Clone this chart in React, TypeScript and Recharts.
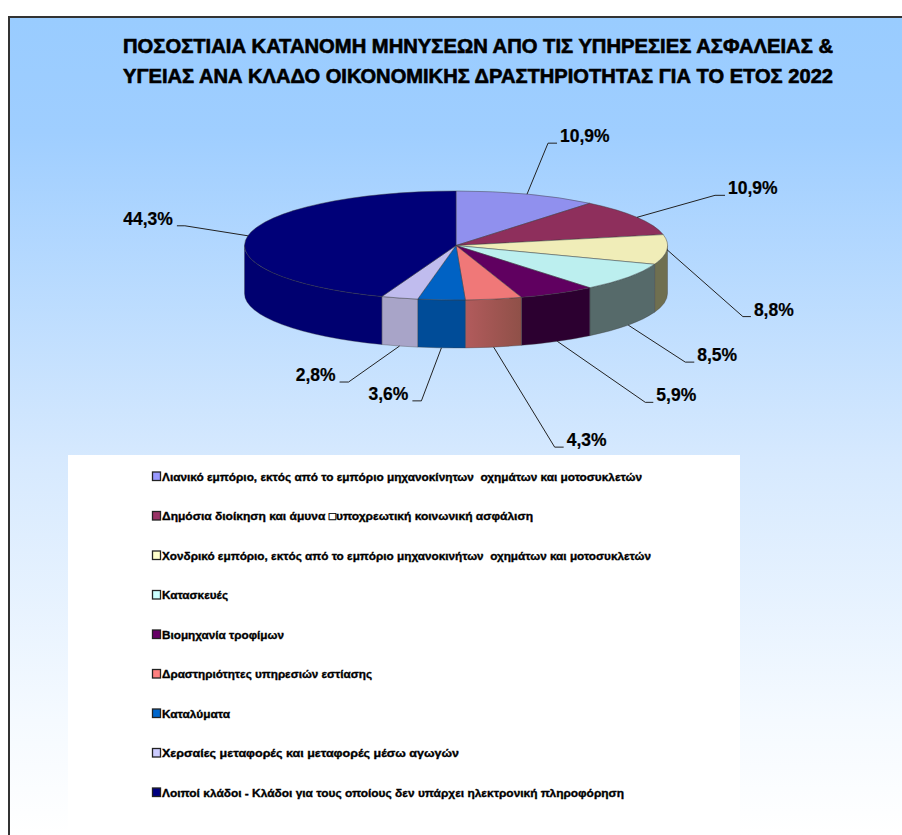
import React from 'react';
import { PieChart, Pie, Cell, Legend } from 'recharts';

const categories = [
  'Λιανικό εμπόριο, εκτός από το εμπόριο μηχανοκίνητων  οχημάτων και μοτοσυκλετών',
  'Δημόσια διοίκηση και άμυνα \u25A1υποχρεωτική κοινωνική ασφάλιση',
  'Χονδρικό εμπόριο, εκτός από το εμπόριο μηχανοκινήτων  οχημάτων και μοτοσυκλετών',
  'Κατασκευές',
  'Βιομηχανία τροφίμων',
  'Δραστηριότητες υπηρεσιών εστίασης',
  'Καταλύματα',
  'Χερσαίες μεταφορές και μεταφορές μέσω αγωγών',
  'Λοιποί κλάδοι - Κλάδοι για τους οποίους δεν υπάρχει ηλεκτρονική πληροφόρηση',
];
const shares = [10.9, 10.9, 8.8, 8.5, 5.9, 4.3, 3.6, 2.8, 44.3];
const titleLines = [
  'ΠΟΣΟΣΤΙΑΙΑ ΚΑΤΑΝΟΜΗ ΜΗΝΥΣΕΩΝ ΑΠΟ ΤΙΣ ΥΠΗΡΕΣΙΕΣ ΑΣΦΑΛΕΙΑΣ &',
  'ΥΓΕΙΑΣ ΑΝΑ ΚΛΑΔΟ ΟΙΚΟΝΟΜΙΚΗΣ ΔΡΑΣΤΗΡΙΟΤΗΤΑΣ ΓΙΑ ΤΟ ΕΤΟΣ 2022',
];

const legendColors = ['#9999ff', '#993366', '#ffffcc', '#ccffff', '#660066', '#ff8080', '#0066cc', '#ccccff', '#000080'];
const topColors = ['#9090ee', '#8e2f5c', '#f0edb8', '#bcefef', '#600060', '#f07878', '#0062c4', '#c0bcee', '#000078'];
const sideColors = ['#6a6ab0', '#6a2444', '#6f6f50', '#566a6a', '#2c0030', 'url(#salmonSide)', '#004c98', '#a8a4c8', '#000070'];

// [elbow dx, elbow dy, tail] measured from where the leader leaves the pie
const leaders = [
  [21, -51, 9],
  [78, -22, 10],
  [76, 67, 8],
  [57, 37, 9],
  [88, 61, 8],
  [61, 100, 9],
  [-20, 53, -9],
  [-51, 36, -9],
  [-63, -10, -8],
];
const legendWidths = [480, 371, 489, 66, 122, 210, 68, 297, 462];

const W = 902;
const H = 835;
const CX = 456;
const CY = 245.5;
const RX = 211.5;
const TILT = 54.5 / 211.5;
const DEPTH = 48;
const RAD = Math.PI / 180;

const rows = categories.map((name, i) => ({ name, value: shares[i] }));

const pt = (cx: number, cy: number, r: number, deg: number) => {
  const x = cx + r * Math.cos(deg * RAD);
  const y = cy - r * TILT * Math.sin(deg * RAD);
  return `${x.toFixed(2)} ${y.toFixed(2)}`;
};

// the top face: same angles the pie computed, squashed to an ellipse
const TopFace = (props: any) => {
  const { cx, cy, outerRadius: r, startAngle, endAngle, fill } = props;
  const large = Math.abs(startAngle - endAngle) > 180 ? 1 : 0;
  const d = `M ${cx} ${cy} L ${pt(cx, cy, r, startAngle)} A ${r} ${r * TILT} 0 ${large} 1 ${pt(cx, cy, r, endAngle)} Z`;
  return <path d={d} fill={fill} stroke="#3c3c3c" strokeOpacity={0.65} strokeWidth={0.7} />;
};

// the rim, only for the part of a slice on the near half
const SideWall = (props: any) => {
  const { cx, cy, outerRadius: r, startAngle, endAngle, fill } = props;
  const hi = Math.min(Math.max(startAngle, endAngle), 0);
  const lo = Math.max(Math.min(startAngle, endAngle), -180);
  if (hi <= lo) return null;
  const d = [
    `M ${pt(cx, cy, r, hi)}`,
    `A ${r} ${r * TILT} 0 0 1 ${pt(cx, cy, r, lo)}`,
    `L ${pt(cx, cy + DEPTH, r, lo)}`,
    `A ${r} ${r * TILT} 0 0 0 ${pt(cx, cy + DEPTH, r, hi)}`,
    'Z',
  ].join(' ');
  return <path d={d} fill={fill} stroke="#3c3c3c" strokeOpacity={0.5} strokeWidth={0.7} />;
};

const LeaderLabel = (props: any) => {
  const { cx, cy, outerRadius: r, midAngle, index, value } = props;
  const cos = Math.cos(midAngle * RAD);
  const sin = Math.sin(midAngle * RAD);
  const ax = cx + r * cos;
  const ay = cy - r * TILT * sin + (sin < -0.2 ? DEPTH : 0);
  const [dx, dy, tail] = leaders[index];
  const ex = ax + dx;
  const ey = ay + dy;
  const tx = ex + tail;
  return (
    <g>
      <polyline points={`${ax},${ay} ${ex},${ey} ${tx},${ey}`} fill="none" stroke="#222" strokeWidth={1} />
      <text
        x={tx + (tail > 0 ? 3 : -4)}
        y={ey - 1}
        textAnchor={tail > 0 ? 'start' : 'end'}
        fontFamily="'Liberation Sans', Arial, sans-serif"
        fontWeight={700}
        fontSize={17.5}
        fill="#000"
        stroke="#000"
        strokeWidth={0.2}
      >
        {value.toFixed(1).replace('.', ',')}%
      </text>
    </g>
  );
};

const LegendRows = (props: any) => {
  // both pies report their slices, the rim pie first
  const items = (props.payload ?? []).filter(
    (item: any, i: number, all: any[]) => all.findIndex((o) => o.value === item.value) === i,
  );
  return (
    <svg width={672} height={380} style={{ display: 'block' }}>
      {items.map((item: any, i: number) => (
        <g key={i} transform={`translate(0, ${i * 39.5})`}>
          <rect x={84.5} y={17} width={8} height={8.5} fill={legendColors[i]} stroke="#222" strokeWidth={1.3} />
          <text
            x={94}
            y={25.5}
            fontFamily="'Liberation Sans', Arial, sans-serif"
            fontWeight={700}
            fontSize={11.5}
            fill="#000"
            stroke="#000"
            strokeWidth={0.35}
            textLength={legendWidths[i]}
            lengthAdjust="spacingAndGlyphs"
            xmlSpace="preserve"
          >
            {item.value}
          </text>
        </g>
      ))}
    </svg>
  );
};

export default function App() {
  return (
    <div style={{ position: 'absolute', left: 0, top: 0, width: W, height: H, overflow: 'hidden', background: '#fff' }}>
      <div
        style={{
          position: 'absolute',
          left: 8,
          top: 16,
          width: W - 8,
          height: H - 16,
          boxSizing: 'border-box',
          borderLeft: '2px solid #333',
          borderTop: '2px solid #333',
          background: 'linear-gradient(180deg, #99ccff 0%, #9fceff 14%, #d6e9fe 54%, #f5faff 86%, #ffffff 100%)',
        }}
      />
      <div style={{ position: 'absolute', left: 0, top: 0 }}>
        <PieChart width={W} height={H} margin={{ top: 0, right: 0, bottom: 0, left: 0 }}>
          <defs>
            <linearGradient id="salmonSide" x1="0" y1="0" x2="1" y2="0">
              <stop offset="0%" stopColor="#b25b5c" />
              <stop offset="100%" stopColor="#8f5048" />
            </linearGradient>
          </defs>
          {titleLines.map((line, i) => (
            <text
              key={i}
              x={123}
              y={53 + i * 30}
              fontFamily="'Liberation Sans', Arial, sans-serif"
              fontWeight={700}
              fontSize={19.5}
              fill="#000"
              stroke="#000"
              strokeWidth={0.6}
              textLength={710}
              lengthAdjust="spacingAndGlyphs"
            >
              {line}
            </text>
          ))}
          <Pie
            data={rows}
            dataKey="value"
            nameKey="name"
            cx={CX}
            cy={CY}
            outerRadius={RX}
            startAngle={90}
            endAngle={-270}
            shape={SideWall}
            legendType="none"
            label={false}
            labelLine={false}
            isAnimationActive={false}
          >
            {rows.map((_, i) => (
              <Cell key={i} fill={sideColors[i]} />
            ))}
          </Pie>
          <Pie
            data={rows}
            dataKey="value"
            nameKey="name"
            cx={CX}
            cy={CY}
            outerRadius={RX}
            startAngle={90}
            endAngle={-270}
            shape={TopFace}
            label={LeaderLabel}
            labelLine={false}
            isAnimationActive={false}
          >
            {rows.map((_, i) => (
              <Cell key={i} fill={topColors[i]} />
            ))}
          </Pie>
          <Legend
            content={LegendRows}
            itemSorter={null}
            wrapperStyle={{ left: 68, top: 455, width: 672, height: 380, background: '#fff' }}
          />
        </PieChart>
      </div>
    </div>
  );
}
